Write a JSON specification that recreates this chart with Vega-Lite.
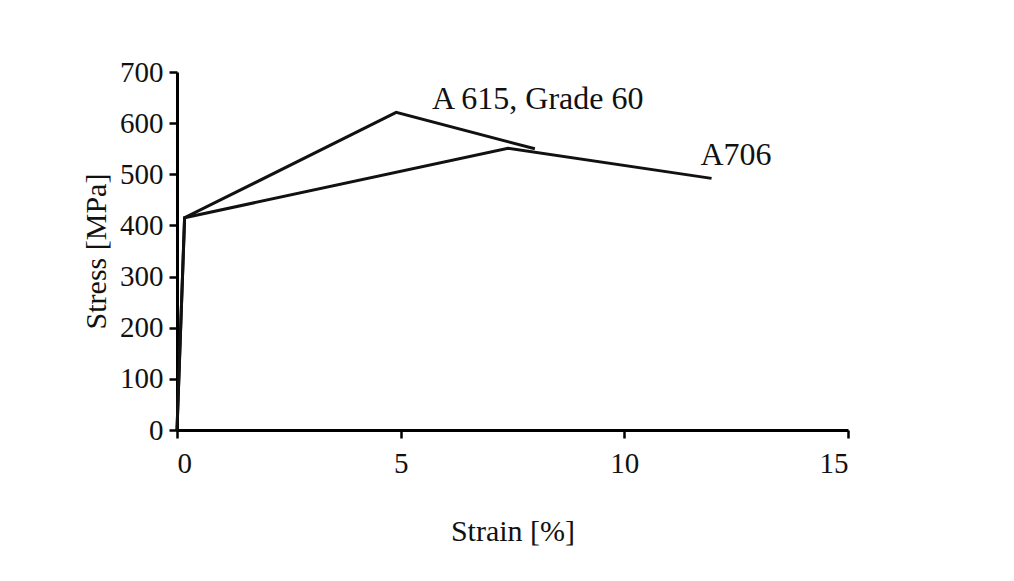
{
  "$schema": "https://vega.github.io/schema/vega-lite/v6.json",
  "autosize": "none",
  "width": 671,
  "height": 358,
  "padding": {"left": 177, "top": 72, "right": 166, "bottom": 151},
  "background": "white",
  "config": {
    "view": {"stroke": null},
    "font": "Liberation Serif",
    "axis": {
      "grid": false,
      "domainColor": "black",
      "domainWidth": 3,
      "tickColor": "black",
      "tickWidth": 2.5,
      "tickSize": 8,
      "labelFont": "Liberation Serif",
      "labelFontSize": 29,
      "labelFontWeight": "normal",
      "labelColor": "#111111",
      "titleFont": "Liberation Serif",
      "titleFontSize": 30,
      "titleFontWeight": "normal",
      "titleColor": "#111111"
    }
  },
  "datasets": {
    "curves": [
      {"series": "A 615, Grade 60", "strain": 0, "stress": 0},
      {"series": "A 615, Grade 60", "strain": 0.17, "stress": 415},
      {"series": "A 615, Grade 60", "strain": 4.9, "stress": 621},
      {"series": "A 615, Grade 60", "strain": 8.0, "stress": 550},
      {"series": "A706", "strain": 0, "stress": 0},
      {"series": "A706", "strain": 0.17, "stress": 415},
      {"series": "A706", "strain": 7.4, "stress": 551},
      {"series": "A706", "strain": 11.95, "stress": 492}
    ],
    "labels": [
      {"label": "A 615, Grade 60", "strain": 5.7, "stress": 648},
      {"label": "A706", "strain": 11.7, "stress": 537}
    ]
  },
  "layer": [
    {
      "data": {"name": "curves"},
      "mark": {"type": "line", "color": "#111111", "strokeWidth": 3, "clip": false},
      "encoding": {
        "x": {
          "field": "strain",
          "type": "quantitative",
          "scale": {"domain": [0, 15], "nice": false, "zero": false},
          "axis": {"values": [0, 5, 10, 15], "title": "Strain [%]", "labelPadding": 11, "titlePadding": 38}
        },
        "y": {
          "field": "stress",
          "type": "quantitative",
          "scale": {"domain": [0, 700], "nice": false},
          "axis": {"values": [0, 100, 200, 300, 400, 500, 600, 700], "title": "Stress [MPa]", "labelPadding": 6, "titlePadding": 8}
        },
        "detail": {"field": "series"}
      }
    },
    {
      "data": {"name": "labels"},
      "mark": {"type": "text", "align": "left", "baseline": "middle", "font": "Liberation Serif", "fontSize": 32, "color": "#111111"},
      "encoding": {
        "x": {"field": "strain", "type": "quantitative"},
        "y": {"field": "stress", "type": "quantitative"},
        "text": {"field": "label"}
      }
    }
  ]
}
